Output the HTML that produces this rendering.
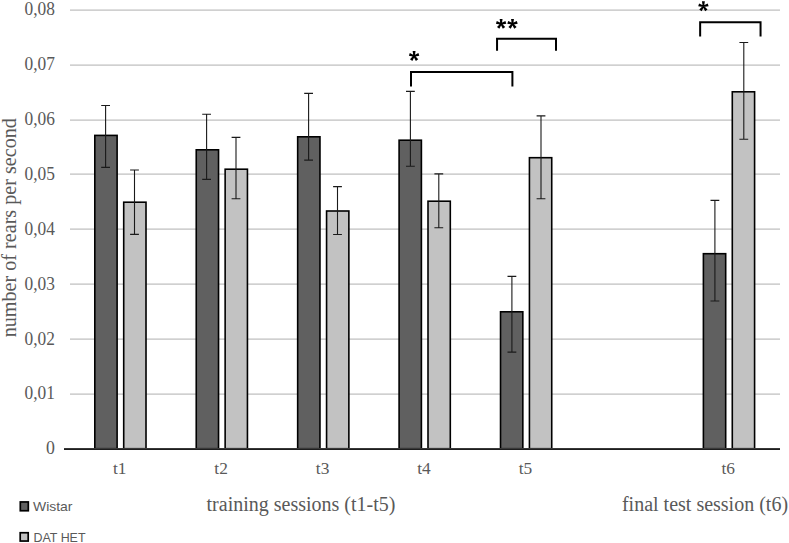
<!DOCTYPE html>
<html><head><meta charset="utf-8"><style>
html,body{margin:0;padding:0;background:#fff;width:789px;height:543px;overflow:hidden}
svg{display:block}
.tk{font-family:"Liberation Serif",serif;font-size:17.8px;fill:#595959}
.ti{font-family:"Liberation Serif",serif;font-size:20px;fill:#595959}
.lg{font-family:"Liberation Sans",sans-serif;font-size:13.6px;fill:#595959}
</style></head><body>
<svg width="789" height="543" viewBox="0 0 789 543">
<rect x="70" y="393" width="710" height="1" fill="#dedede"/>
<rect x="70" y="394" width="710" height="1" fill="#d0d0d0"/>
<rect x="70" y="338" width="710" height="1" fill="#dedede"/>
<rect x="70" y="339" width="710" height="1" fill="#d0d0d0"/>
<rect x="70" y="283" width="710" height="1" fill="#dedede"/>
<rect x="70" y="284" width="710" height="1" fill="#d0d0d0"/>
<rect x="70" y="228" width="710" height="1" fill="#dedede"/>
<rect x="70" y="229" width="710" height="1" fill="#d0d0d0"/>
<rect x="70" y="173" width="710" height="1" fill="#dedede"/>
<rect x="70" y="174" width="710" height="1" fill="#d0d0d0"/>
<rect x="70" y="119" width="710" height="1" fill="#dedede"/>
<rect x="70" y="120" width="710" height="1" fill="#d0d0d0"/>
<rect x="70" y="64" width="710" height="1" fill="#dedede"/>
<rect x="70" y="65" width="710" height="1" fill="#d0d0d0"/>
<rect x="70" y="9" width="710" height="1" fill="#dedede"/>
<rect x="70" y="10" width="710" height="1" fill="#d0d0d0"/>
<rect x="94.81" y="135.40" width="22.30" height="313.30" fill="#606060" stroke="#000" stroke-width="1.6"/>
<rect x="123.71" y="202.20" width="22.30" height="246.50" fill="#c2c2c2" stroke="#000" stroke-width="1.6"/>
<rect x="196.24" y="149.80" width="22.30" height="298.90" fill="#606060" stroke="#000" stroke-width="1.6"/>
<rect x="225.14" y="169.20" width="22.30" height="279.50" fill="#c2c2c2" stroke="#000" stroke-width="1.6"/>
<rect x="297.67" y="136.80" width="22.30" height="311.90" fill="#606060" stroke="#000" stroke-width="1.6"/>
<rect x="326.57" y="211.00" width="22.30" height="237.70" fill="#c2c2c2" stroke="#000" stroke-width="1.6"/>
<rect x="399.10" y="140.20" width="22.30" height="308.50" fill="#606060" stroke="#000" stroke-width="1.6"/>
<rect x="428.00" y="201.20" width="22.30" height="247.50" fill="#c2c2c2" stroke="#000" stroke-width="1.6"/>
<rect x="500.53" y="311.80" width="22.30" height="136.90" fill="#606060" stroke="#000" stroke-width="1.6"/>
<rect x="529.43" y="157.70" width="22.30" height="291.00" fill="#c2c2c2" stroke="#000" stroke-width="1.6"/>
<rect x="703.39" y="253.70" width="22.30" height="195.00" fill="#606060" stroke="#000" stroke-width="1.6"/>
<rect x="732.29" y="91.80" width="22.30" height="356.90" fill="#c2c2c2" stroke="#000" stroke-width="1.6"/>
<path d="M105.60 105.50V167.40M101.20 105.50H110.00M101.20 167.40H110.00" stroke="#1a1a1a" stroke-width="1.1" fill="none"/>
<path d="M134.50 170.00V234.40M130.10 170.00H138.90M130.10 234.40H138.90" stroke="#1a1a1a" stroke-width="1.1" fill="none"/>
<path d="M206.60 114.20V179.40M202.20 114.20H211.00M202.20 179.40H211.00" stroke="#1a1a1a" stroke-width="1.1" fill="none"/>
<path d="M236.00 137.40V198.70M231.60 137.40H240.40M231.60 198.70H240.40" stroke="#1a1a1a" stroke-width="1.1" fill="none"/>
<path d="M308.60 93.40V160.10M304.20 93.40H313.00M304.20 160.10H313.00" stroke="#1a1a1a" stroke-width="1.1" fill="none"/>
<path d="M337.50 186.60V234.50M333.10 186.60H341.90M333.10 234.50H341.90" stroke="#1a1a1a" stroke-width="1.1" fill="none"/>
<path d="M410.40 91.40V166.20M406.00 91.40H414.80M406.00 166.20H414.80" stroke="#1a1a1a" stroke-width="1.1" fill="none"/>
<path d="M438.80 173.90V227.70M434.40 173.90H443.20M434.40 227.70H443.20" stroke="#1a1a1a" stroke-width="1.1" fill="none"/>
<path d="M511.90 276.40V352.10M507.50 276.40H516.30M507.50 352.10H516.30" stroke="#1a1a1a" stroke-width="1.1" fill="none"/>
<path d="M541.00 115.90V198.70M536.60 115.90H545.40M536.60 198.70H545.40" stroke="#1a1a1a" stroke-width="1.1" fill="none"/>
<path d="M714.90 200.40V301.00M710.50 200.40H719.30M710.50 301.00H719.30" stroke="#1a1a1a" stroke-width="1.1" fill="none"/>
<path d="M743.80 42.50V139.30M739.40 42.50H748.20M739.40 139.30H748.20" stroke="#1a1a1a" stroke-width="1.1" fill="none"/>
<rect x="64" y="448" width="716" height="1" fill="#383838"/>
<rect x="64" y="449" width="716" height="1" fill="#1e1e1e"/>
<text x="55" y="454.20" text-anchor="end" class="tk">0</text>
<text x="55" y="399.35" text-anchor="end" class="tk" textLength="30.4" lengthAdjust="spacingAndGlyphs">0,01</text>
<text x="55" y="344.50" text-anchor="end" class="tk" textLength="30.4" lengthAdjust="spacingAndGlyphs">0,02</text>
<text x="55" y="289.65" text-anchor="end" class="tk" textLength="30.4" lengthAdjust="spacingAndGlyphs">0,03</text>
<text x="55" y="234.80" text-anchor="end" class="tk" textLength="30.4" lengthAdjust="spacingAndGlyphs">0,04</text>
<text x="55" y="179.95" text-anchor="end" class="tk" textLength="30.4" lengthAdjust="spacingAndGlyphs">0,05</text>
<text x="55" y="125.10" text-anchor="end" class="tk" textLength="30.4" lengthAdjust="spacingAndGlyphs">0,06</text>
<text x="55" y="70.25" text-anchor="end" class="tk" textLength="30.4" lengthAdjust="spacingAndGlyphs">0,07</text>
<text x="55" y="15.40" text-anchor="end" class="tk" textLength="30.4" lengthAdjust="spacingAndGlyphs">0,08</text>
<text x="119.71" y="474" text-anchor="middle" class="tk" style="font-size:17.4px">t1</text>
<text x="221.14" y="474" text-anchor="middle" class="tk" style="font-size:17.4px">t2</text>
<text x="322.57" y="474" text-anchor="middle" class="tk" style="font-size:17.4px">t3</text>
<text x="424.00" y="474" text-anchor="middle" class="tk" style="font-size:17.4px">t4</text>
<text x="525.43" y="474" text-anchor="middle" class="tk" style="font-size:17.4px">t5</text>
<text x="728.29" y="474" text-anchor="middle" class="tk" style="font-size:17.4px">t6</text>
<text x="301" y="511" text-anchor="middle" class="ti">training sessions (t1-t5)</text>
<text x="705" y="511" text-anchor="middle" class="ti">final test session (t6)</text>
<text transform="translate(15.7 227.7) rotate(-90)" text-anchor="middle" class="ti" style="font-size:20.15px">number of rears per second</text>
<path d="M411.00 86.60V72.10H512.40V86.60" stroke="#000" stroke-width="2" fill="none"/>
<path d="M497.05 50.80V38.85H556.00V50.80" stroke="#000" stroke-width="2" fill="none"/>
<path d="M700.15 36.50V22.15H760.55V36.50" stroke="#000" stroke-width="2" fill="none"/>
<path d="M414.80 56.30L415.55 51.00L412.65 51.00L413.40 56.30ZM414.03 56.76L419.30 55.83L418.41 53.08L413.60 55.43ZM413.36 56.17L415.87 60.90L418.21 59.19L414.49 55.35ZM413.71 55.35L409.99 59.19L412.33 60.90L414.84 56.17ZM414.60 55.43L409.79 53.08L408.90 55.83L414.17 56.76Z" fill="#000"/>
<path d="M501.80 24.20L502.55 18.90L499.65 18.90L500.40 24.20ZM501.03 24.66L506.30 23.73L505.41 20.98L500.60 23.33ZM500.36 24.07L502.87 28.80L505.21 27.09L501.49 23.25ZM500.71 23.25L496.99 27.09L499.33 28.80L501.84 24.07ZM501.60 23.33L496.79 20.98L495.90 23.73L501.17 24.66Z" fill="#000"/>
<path d="M513.20 24.20L513.95 18.90L511.05 18.90L511.80 24.20ZM512.43 24.66L517.70 23.73L516.81 20.98L512.00 23.33ZM511.76 24.07L514.27 28.80L516.61 27.09L512.89 23.25ZM512.11 23.25L508.39 27.09L510.73 28.80L513.24 24.07ZM513.00 23.33L508.19 20.98L507.30 23.73L512.57 24.66Z" fill="#000"/>
<path d="M704.10 6.60L704.85 1.30L701.95 1.30L702.70 6.60ZM703.33 7.06L708.60 6.13L707.71 3.38L702.90 5.73ZM702.66 6.47L705.17 11.20L707.51 9.49L703.79 5.65ZM703.01 5.65L699.29 9.49L701.63 11.20L704.14 6.47ZM703.90 5.73L699.09 3.38L698.20 6.13L703.47 7.06Z" fill="#000"/>
<rect x="20.3" y="501.95" width="8.0" height="8.8" fill="#606060" stroke="#000" stroke-width="1.7"/>
<rect x="20.2" y="532.75" width="8.0" height="8.3" fill="#c2c2c2" stroke="#000" stroke-width="1.7"/>
<text x="33" y="510.7" class="lg" textLength="39.5" lengthAdjust="spacingAndGlyphs">Wistar</text>
<text x="33.5" y="541.7" class="lg" textLength="52" lengthAdjust="spacingAndGlyphs">DAT HET</text>
</svg>
</body></html>
